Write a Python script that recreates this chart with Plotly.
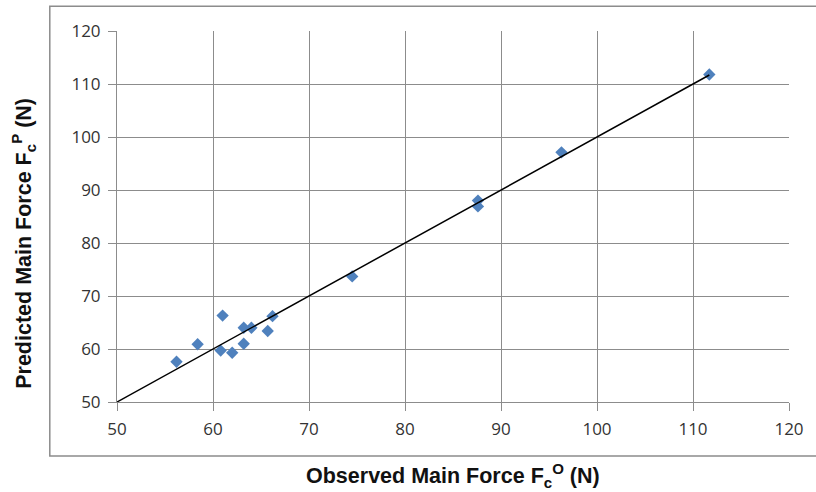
import plotly.graph_objects as go

observed = [111.7, 96.3, 87.6, 87.6, 74.5, 56.2, 58.4, 61.0, 60.8, 62.0, 63.2, 63.2, 64.0, 65.7, 66.2]
predicted = [111.8, 97.1, 88.0, 86.9, 73.7, 57.6, 60.9, 66.3, 59.7, 59.3, 61.0, 64.0, 64.0, 63.4, 66.2]
fit_x = [50, 111.7]
fit_y = [50, 111.7]
ticks = [50, 60, 70, 80, 90, 100, 110, 120]

fig = go.Figure()
fig.add_trace(go.Scatter(x=observed, y=predicted, mode="markers",
                         marker=dict(symbol="diamond", size=9.5, color="#4F81BD",
                                     line=dict(width=0)),
                         showlegend=False))
fig.add_trace(go.Scatter(x=fit_x, y=fit_y, mode="lines",
                         line=dict(color="black", width=1.5), showlegend=False))

axis_common = dict(range=[50, 120], tickvals=ticks, showgrid=True, gridcolor="#8C8C8C",
                   gridwidth=1, showline=True, linecolor="#8C8C8C", linewidth=1,
                   ticks="outside", ticklen=8, tickcolor="#8C8C8C", zeroline=False,
                   ticklabelstandoff=4,
                   tickfont=dict(family="Open Sans", size=17, color="#333333"))

fig.update_xaxes(**axis_common)
fig.update_yaxes(**axis_common)

fig.update_layout(
    width=816, height=492,
    margin=dict(l=117, r=27, t=31, b=90),
    paper_bgcolor="white", plot_bgcolor="white",
    shapes=[dict(type="rect", xref="paper", yref="paper",
                 x0=-0.100, x1=1.08, y0=-0.1454, y1=1.0665,
                 line=dict(color="#8C8C8C", width=1.5), fillcolor="rgba(0,0,0,0)",
                 layer="below")],
    annotations=[
        dict(text="<b>Observed Main Force F<sub>c</sub><sup>O</sup> (N)</b>",
             xref="paper", yref="paper", x=0.5, y=-0.197, xanchor="center", yanchor="middle",
             showarrow=False, font=dict(family="Liberation Sans", size=21.5, color="#111111")),
        dict(text="<b>Predicted Main Force F<sub>c</sub><sup>P</sup> (N)</b>",
             xref="paper", yref="paper", x=-0.139, y=0.428, xanchor="center", yanchor="middle",
             textangle=-90, showarrow=False,
             font=dict(family="Liberation Sans", size=21.5, color="#111111")),
    ],
)

fig.write_html("out.html")
